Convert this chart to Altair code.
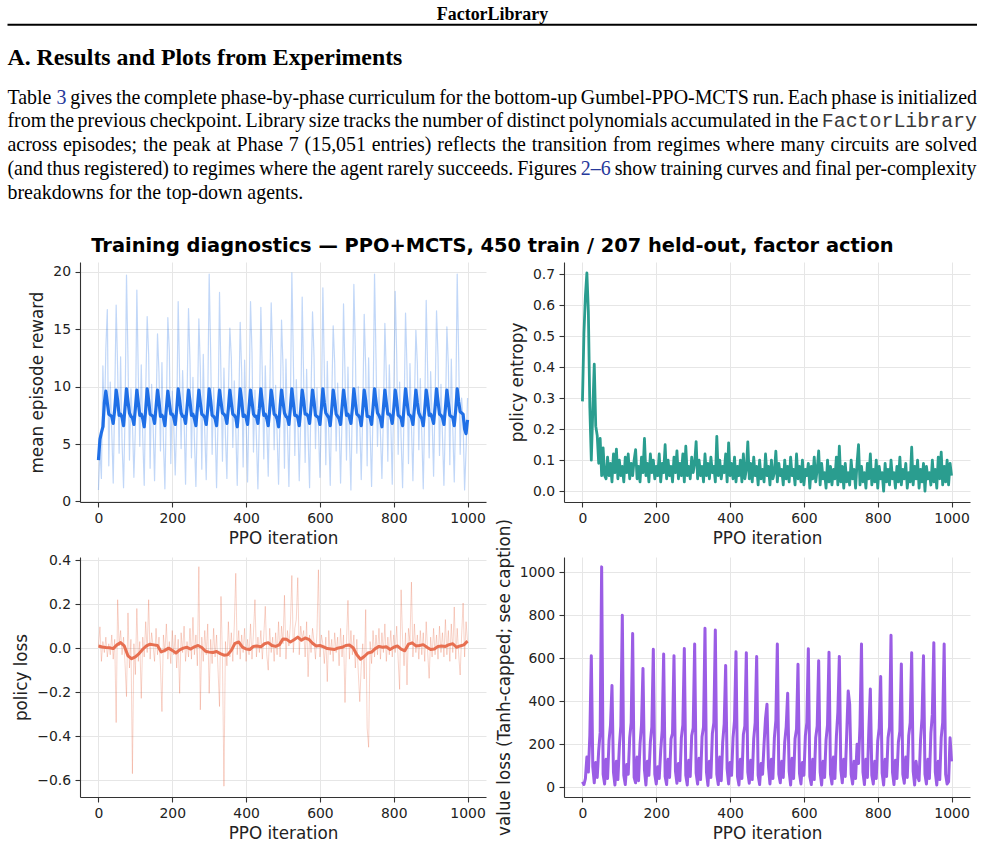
import altair as alt
import pandas as pd

# ---------------------------------------------------------------------------
# Training curves (one logged value every 4 PPO iterations)
# ---------------------------------------------------------------------------
LOG_EVERY = 4

reward_raw = [
    1.0, 4.5, 2.0, 11.8, 6.5, 13.3,
    16.7, 3.1, 10.4, 6.2, 1.6, 8.8, 17.1,
    11.5, 4.2, 12.6, 5.1, 1.2, 7.4, 19.7,
    12.4, 3.6, 9.8, 7.0, 2.1, 6.3, 18.4,
    10.9, 4.8, 11.9, 5.6, 1.4, 9.5, 16.1,
    12.8, 2.9, 10.2, 6.8, 1.8, 7.7, 14.6,
    11.2, 4.4, 12.1, 5.3, 1.1, 8.2, 16.0,
    13.1, 3.3, 9.6, 6.6, 2.3, 6.9, 17.4,
    10.7, 4.6, 11.4, 7.2, 1.5, 9.1, 16.8,
    12.2, 3.8, 10.8, 5.4, 1.3, 7.6, 15.9,
    11.6, 2.8, 12.8, 6.1, 1.9, 8.4, 19.8,
    12.9, 4.1, 9.9, 6.9, 1.2, 7.1, 18.2,
    10.8, 3.5, 11.6, 5.8, 2.0, 9.3, 15.1,
    12.5, 4.7, 10.5, 6.4, 1.4, 7.8, 15.6,
    11.3, 3.0, 12.3, 7.1, 1.7, 8.6, 17.4,
    13.0, 4.3, 9.7, 5.5, 1.1, 7.2, 16.9,
    11.0, 3.7, 11.8, 6.7, 2.2, 9.0, 17.3,
    12.6, 4.5, 10.1, 5.9, 1.5, 7.5, 15.8,
    11.8, 2.9, 12.4, 6.3, 1.3, 8.3, 19.9,
    12.3, 4.0, 10.6, 7.3, 1.8, 7.0, 17.8,
    10.6, 3.4, 11.5, 5.7, 1.2, 9.4, 16.5,
    12.7, 4.6, 9.9, 6.5, 2.1, 7.9, 18.6,
    11.4, 3.2, 12.2, 6.0, 1.4, 8.7, 15.3,
    12.1, 4.4, 10.3, 7.0, 1.6, 7.3, 17.2,
    11.1, 3.6, 11.7, 5.6, 1.0, 8.9, 18.9,
    13.2, 4.2, 10.0, 6.8, 1.9, 7.6, 16.3,
    11.7, 3.1, 12.5, 6.2, 1.3, 8.1, 19.8,
    12.4, 4.8, 9.8, 5.9, 2.0, 7.4, 15.5,
    10.9, 3.5, 11.9, 7.1, 1.5, 9.2, 18.3,
    12.8, 4.1, 10.4, 5.5, 1.2, 7.7, 16.4,
    11.5, 3.3, 12.0, 6.6, 1.8, 8.5, 14.9,
    12.0, 4.5, 10.7, 6.0, 1.1, 7.9, 17.5,
    11.2, 3.8, 11.3, 7.2, 2.2, 8.8, 16.6,
    12.6, 4.0, 10.2, 5.8, 1.4, 7.2, 15.2,
    11.9, 3.2, 12.4, 6.4, 1.7, 8.0, 19.8,
    12.5, 4.1, 9.0, 6.8, 1.0, 4.5, 9.0,
]

reward_smooth = [
    3.6, 5.4, 6.0, 6.5, 8.6, 9.6,
    8.6, 7.6, 7.5, 7.4, 6.8, 8.0, 9.7,
    8.8, 7.5, 7.6, 7.3, 6.6, 8.2, 9.8,
    8.7, 7.7, 7.4, 7.3, 6.7, 8.1, 9.7,
    8.6, 7.5, 7.6, 7.2, 6.5, 8.0, 9.8,
    8.8, 7.6, 7.5, 7.4, 6.8, 8.2, 9.7,
    8.7, 7.4, 7.5, 7.3, 6.6, 8.1, 9.6,
    8.6, 7.6, 7.6, 7.3, 6.7, 8.0, 9.8,
    8.8, 7.7, 7.4, 7.4, 6.8, 8.2, 9.7,
    8.7, 7.5, 7.6, 7.2, 6.6, 8.1, 9.7,
    8.6, 7.6, 7.5, 7.3, 6.7, 8.0, 9.8,
    8.8, 7.5, 7.4, 7.2, 6.6, 8.2, 9.7,
    8.7, 7.7, 7.6, 7.4, 6.8, 8.1, 9.7,
    8.6, 7.6, 7.5, 7.3, 6.5, 8.0, 9.8,
    8.8, 7.4, 7.5, 7.3, 6.7, 8.2, 9.7,
    8.7, 7.6, 7.4, 7.4, 6.8, 8.1, 9.8,
    8.6, 7.5, 7.6, 7.2, 6.6, 8.0, 9.7,
    8.8, 7.6, 7.5, 7.2, 6.5, 8.2, 9.7,
    8.7, 7.7, 7.4, 7.3, 6.7, 8.1, 9.8,
    8.6, 7.5, 7.5, 7.3, 6.6, 8.0, 9.7,
    8.8, 7.6, 7.6, 7.4, 6.8, 8.2, 9.7,
    8.7, 7.5, 7.4, 7.3, 6.7, 8.1, 9.8,
    8.6, 7.7, 7.5, 7.3, 6.6, 8.0, 9.7,
    8.8, 7.6, 7.4, 7.2, 6.7, 8.2, 9.7,
    8.7, 7.5, 7.6, 7.3, 6.8, 8.1, 9.8,
    8.6, 7.6, 7.5, 7.3, 6.6, 8.0, 9.7,
    8.8, 7.4, 7.4, 7.3, 6.7, 8.2, 9.8,
    8.7, 7.7, 7.5, 7.2, 6.5, 8.1, 9.7,
    8.6, 7.6, 7.6, 7.4, 6.8, 8.0, 9.7,
    8.8, 7.5, 7.4, 7.2, 6.6, 8.2, 9.8,
    8.7, 7.6, 7.5, 7.3, 6.7, 8.1, 9.7,
    8.6, 7.7, 7.4, 7.2, 6.6, 8.0, 9.7,
    8.8, 7.5, 7.6, 7.3, 6.8, 8.2, 9.8,
    8.7, 7.6, 7.5, 7.3, 6.7, 8.1, 9.7,
    8.6, 7.5, 7.4, 7.3, 6.6, 8.0, 9.8,
    8.7, 7.8, 7.7, 7.6, 6.3, 5.9, 7.1,
]

policy_entropy = [
    0.29, 0.51, 0.63, 0.705, 0.58, 0.27, 0.10, 0.26, 0.41, 0.21, 0.18, 0.09, 0.17, 0.05, 0.14, 0.05,
    0.04, 0.11, 0.05, 0.09, 0.03, 0.12, 0.06, 0.136, 0.04, 0.10,
    0.05, 0.08, 0.03, 0.11, 0.06, 0.12, 0.04, 0.09, 0.05, 0.10,
    0.134, 0.04, 0.08, 0.03, 0.11, 0.06, 0.17, 0.05, 0.09, 0.03,
    0.12, 0.06, 0.10, 0.04, 0.08, 0.05, 0.12, 0.03, 0.09, 0.06,
    0.15, 0.04, 0.10, 0.05, 0.08, 0.03, 0.11, 0.06, 0.13, 0.04,
    0.09, 0.05, 0.12, 0.03, 0.145, 0.05, 0.08, 0.04, 0.11, 0.06,
    0.09, 0.16, 0.04, 0.10, 0.05, 0.08, 0.03, 0.12, 0.05, 0.09,
    0.04, 0.11, 0.06, 0.08, 0.03, 0.177, 0.05, 0.10, 0.04, 0.08,
    0.06, 0.12, 0.03, 0.156, 0.05, 0.09, 0.04, 0.11, 0.03, 0.08,
    0.05, 0.10, 0.03, 0.12, 0.04, 0.07, 0.159, 0.04, 0.09, 0.03,
    0.11, 0.05, 0.08, 0.02, 0.10, 0.04, 0.07, 0.03, 0.12, 0.05,
    0.08, 0.02, 0.10, 0.04, 0.06, 0.129, 0.03, 0.09, 0.05, 0.07,
    0.02, 0.10, 0.04, 0.08, 0.03, 0.11, 0.05, 0.07, 0.02, 0.12,
    0.04, 0.08, 0.03, 0.10, 0.02, 0.07, 0.05, 0.09, 0.01, 0.08,
    0.04, 0.11, 0.03, 0.07, 0.13, 0.02, 0.09, 0.04, 0.06, 0.01,
    0.10, 0.03, 0.08, 0.02, 0.07, 0.04, 0.11, 0.02, 0.145, 0.03,
    0.08, 0.01, 0.09, 0.03, 0.06, 0.02, 0.10, 0.04, 0.07, 0.01,
    0.09, 0.15, 0.02, 0.08, 0.03, 0.06, 0.01, 0.09, 0.04, 0.12,
    0.02, 0.07, 0.03, 0.10, 0.01, 0.08, 0.04, 0.06, 0.00, 0.09,
    0.03, 0.07, 0.02, 0.10, 0.04, 0.06, 0.01, 0.08, 0.03, 0.11,
    0.02, 0.07, 0.04, 0.09, 0.01, 0.06, 0.03, 0.142, 0.02, 0.08,
    0.04, 0.10, 0.01, 0.07, 0.03, 0.09, 0.00, 0.08, 0.04, 0.06,
    0.02, 0.10, 0.03, 0.07, 0.01, 0.11, 0.04, 0.126, 0.02, 0.08,
    0.03, 0.10, 0.02, 0.09, 0.05,
]

policy_loss_raw = [
    0.01, 0.097, -0.06, 0.03, -0.02, 0.05, -0.04, 0.02, -0.03, 0.06,
    -0.05, 0.04, -0.338, 0.22, 0.01, 0.08, -0.03, 0.05, -0.07, -0.22,
    0.16, -0.09, 0.04, -0.57, 0.02, -0.12, 0.18, -0.06, 0.03, -0.228,
    0.05, -0.04, 0.12, -0.02, 0.22, -0.05, 0.07, 0.01, -0.06, 0.09,
    -0.03, 0.05, -0.08, -0.288, 0.06, -0.02, 0.11, -0.05, 0.03, -0.07,
    0.08, -0.03, 0.06, -0.09, 0.04, -0.205, 0.07, -0.02, 0.10, -0.06,
    0.03, -0.04, 0.09, -0.05, 0.14, -0.03, 0.06, -0.08, 0.37, -0.28,
    0.05, -0.06, 0.08, -0.03, 0.11, -0.205, 0.04, -0.07, 0.09, -0.04,
    0.06, -0.10, -0.265, 0.235, -0.05, -0.627, 0.03, -0.08, 0.12, -0.04,
    0.07, -0.06, 0.10, 0.34, -0.03, 0.08, -0.05, 0.06, -0.02, 0.09,
    -0.06, 0.04, -0.03, 0.11, -0.05, 0.07, 0.22, -0.04, 0.05, -0.02,
    0.08, -0.05, 0.06, 0.19, -0.03, -0.10, 0.09, -0.02, 0.05, -0.06,
    0.07, -0.03, 0.12, -0.04, 0.10, 0.02, 0.24, -0.05, 0.08, 0.01,
    0.11, 0.33, -0.02, 0.09, 0.13, 0.32, -0.03, 0.10, 0.04, 0.08,
    -0.04, 0.12, -0.13, 0.06, -0.02, 0.09, 0.03, -0.05, 0.07, 0.356,
    -0.04, 0.06, 0.02, -0.07, 0.05, -0.152, 0.08, -0.03, 0.04, -0.06,
    0.07, -0.02, 0.05, -0.08, 0.09, -0.04, 0.06, -0.247, 0.03, 0.217,
    -0.05, 0.08, -0.03, 0.06, -0.09, 0.04, -0.11, -0.243, -0.08, 0.02,
    -0.14, 0.175, -0.363, -0.45, 0.03, -0.07, 0.08, -0.04, 0.06, -0.03,
    0.09, -0.05, 0.07, -0.02, 0.11, -0.06, 0.05, -0.03, 0.08, -0.04,
    0.06, -0.02, 0.10, -0.05, -0.187, 0.265, 0.04, -0.08, 0.07, -0.167,
    0.09, 0.03, 0.30, -0.04, 0.11, -0.02, 0.06, -0.05, 0.08, -0.03,
    0.07, -0.06, 0.12, -0.02, -0.137, 0.05, -0.04, 0.09, -0.03, 0.06,
    -0.05, 0.10, -0.02, 0.07, -0.04, 0.13, -0.03, 0.08, -0.06, 0.11,
    -0.02, 0.187, -0.05, 0.09, -0.03, -0.122, 0.06, 0.205, -0.04, 0.12,
    0.03,
]

# running mean of the policy loss, one value every 10 iterations
POLICY_SMOOTH_EVERY = 10
policy_loss_smooth = [
    0.010, 0.005, 0.003, 0.002, -0.002, 0.015, 0.025, 0.010, -0.035, -0.048,
    -0.040, -0.025, -0.005, 0.010, 0.018, 0.015, 0.012, -0.017, -0.010, 0.000,
    -0.010, -0.022, -0.008, 0.000, 0.004, -0.004, 0.006, 0.012, 0.003, -0.014,
    -0.018, -0.020, -0.015, -0.025, -0.032, -0.030, -0.010, 0.022, 0.028, 0.005,
    -0.004, -0.006, 0.008, 0.010, 0.006, 0.020, 0.025, 0.012, 0.008, 0.015,
    0.042, 0.040, 0.028, 0.038, 0.050, 0.036, 0.046, 0.040, 0.022, 0.010,
    0.012, 0.006, -0.002, -0.004, -0.006, 0.001, 0.004, 0.012, 0.014, 0.002,
    -0.030, -0.050, -0.038, -0.022, -0.018, -0.002, 0.008, 0.004, 0.006, -0.006,
    0.004, 0.010, -0.004, -0.012, 0.018, 0.024, 0.010, 0.012, 0.016, 0.004,
    -0.006, -0.004, 0.008, 0.010, 0.008, 0.016, 0.020, 0.004, 0.010, 0.015,
    0.032,
]

value_loss = [
    25, 12, 40, 140, 70, 240, 612,
    95, 20, 115, 45, 170, 255, 1026,
    60, 15, 130, 40, 215, 290, 473,
    70, 10, 120, 35, 190, 285, 801,
    55, 12, 105, 60, 230, 300, 716,
    45, 20, 140, 30, 200, 290, 553,
    80, 10, 120, 55, 210, 280, 642,
    60, 15, 95, 40, 170, 265, 620,
    50, 12, 130, 45, 225, 250, 612,
    75, 18, 110, 30, 230, 290, 646,
    55, 10, 125, 50, 240, 275, 667,
    65, 14, 135, 35, 235, 280, 740,
    70, 8, 120, 45, 250, 300, 732,
    60, 12, 140, 30, 210, 295, 567,
    85, 15, 115, 55, 230, 310, 631,
    50, 10, 130, 40, 245, 285, 626,
    70, 18, 125, 35, 225, 300, 608,
    55, 12, 110, 60, 200, 320, 386,
    95, 15, 130, 40, 230, 310, 667,
    60, 20, 120, 45, 210, 280, 437,
    75, 10, 135, 40, 225, 270, 572,
    65, 15, 115, 55, 240, 300, 645,
    50, 12, 130, 35, 230, 285, 589,
    70, 10, 120, 45, 220, 290, 628,
    60, 15, 140, 40, 235, 350, 609,
    80, 20, 130, 50, 250, 448,
    387, 60, 15, 120, 40, 200, 110, 290, 667,
    70, 12, 130, 45, 270, 457,
    55, 15, 120, 40, 215, 275, 515,
    65, 10, 130, 50, 230, 280, 707,
    70, 12, 125, 40, 210, 260, 574,
    60, 18, 140, 45, 240, 300, 626,
    75, 10, 120, 50, 30, 220, 320, 612,
    60, 15, 130, 40, 250, 340, 673,
    70, 10, 120, 35, 230, 300, 667,
    60, 15, 25, 230, 120,
]

# ---------------------------------------------------------------------------
# Page text above the figure
# ---------------------------------------------------------------------------
RUNNING_HEAD = "FactorLibrary"
SECTION_HEADING = "A. Results and Plots from Experiments"
PARAGRAPH_LINES = [
    "Table 3 gives the complete phase-by-phase curriculum for the bottom-up Gumbel-PPO-MCTS run. Each phase is initialized",
    "from the previous checkpoint. Library size tracks the number of distinct polynomials accumulated in the FactorLibrary",
    "across episodes; the peak at Phase 7 (15,051 entries) reflects the transition from regimes where many circuits are solved",
    "(and thus registered) to regimes where the agent rarely succeeds. Figures 2–6 show training curves and final per-complexity",
    "breakdowns for the top-down agents.",
]
LINK_WORDS = {"3", "2–6"}
CODE_WORDS = {"FactorLibrary"}
FIGURE_TITLE = "Training diagnostics — PPO+MCTS, 450 train / 207 held-out, factor action"

# ---------------------------------------------------------------------------
# Styling / geometry
# ---------------------------------------------------------------------------
BLUE = "#1f6fe6"
TEAL = "#2a9d8f"
CORAL = "#e76f51"
PURPLE = "#9b5de5"
LINK_BLUE = "#27399b"

PANEL_W, PANEL_H = 406, 240
COL_GAP, ROW_GAP = 78, 55
PLOT_LEFT = 80          # page x of the left panels' plot area
HEADER_H = 262          # page y where the top panels start

TEXT_LEFT, TEXT_RIGHT = 7.5, 977.0
BODY_SIZE = 19.9
FIRST_BASELINE = 103.5
LINE_PITCH = 23.75

# Times advance widths (1/1000 em) for justifying the paragraph
TIMES_WIDTHS = {
    " ": 250, "(": 333, ")": 333, ",": 250, "-": 333, ".": 250, ";": 278, ":": 278, "–": 500,
    "A": 722, "B": 667, "C": 667, "D": 722, "E": 611, "F": 556, "G": 722, "H": 722,
    "I": 333, "J": 389, "K": 722, "L": 611, "M": 889, "N": 722, "O": 722, "P": 556,
    "Q": 722, "R": 667, "S": 556, "T": 611, "U": 722, "V": 722, "W": 944, "X": 722,
    "Y": 722, "Z": 611,
    "a": 444, "b": 500, "c": 444, "d": 500, "e": 444, "f": 333, "g": 500, "h": 500,
    "i": 278, "j": 278, "k": 500, "l": 278, "m": 778, "n": 500, "o": 500, "p": 500,
    "q": 500, "r": 333, "s": 389, "t": 278, "u": 500, "v": 500, "w": 722, "x": 500,
    "y": 500, "z": 444,
}


def word_width(word, kind):
    if kind == "code":
        return 0.6 * BODY_SIZE * len(word)
    return BODY_SIZE * sum(TIMES_WIDTHS.get(ch, 500) for ch in word) / 1000.0


words_rows = []
for n, line in enumerate(PARAGRAPH_LINES):
    words = line.split(" ")
    kinds = ["link" if w in LINK_WORDS else "code" if w in CODE_WORDS else "text" for w in words]
    widths = [word_width(w, k) for w, k in zip(words, kinds)]
    if n == len(PARAGRAPH_LINES) - 1:
        gap = 0.25 * BODY_SIZE
    else:
        gap = (TEXT_RIGHT - TEXT_LEFT - sum(widths)) / (len(words) - 1)
    x = TEXT_LEFT
    for w, k, wd in zip(words, kinds, widths):
        words_rows.append({"text": w, "kind": k, "px": x - PLOT_LEFT,
                           "py": FIRST_BASELINE + n * LINE_PITCH})
        x += wd + gap
words_df = pd.DataFrame(words_rows)


def px(field):
    return alt.X(f"{field}:Q", scale=None, axis=None)


def py(field):
    return alt.Y(f"{field}:Q", scale=None, axis=None)


def text_layer(df, **mark):
    return alt.Chart(df).mark_text(align=mark.pop("align", "left"), baseline="alphabetic", **mark).encode(
        x=px("px"), y=py("py"), text="text:N")


def one_text(text, x, y, **mark):
    return text_layer(pd.DataFrame({"text": [text], "px": [x], "py": [y]}), **mark)


corner = alt.Chart(pd.DataFrame({"x": [-PLOT_LEFT], "x2": [-PLOT_LEFT + 1], "y": [0], "y2": [1]})).mark_rect(
    color="white").encode(x=px("x"), x2="x2:Q", y=py("y"), y2="y2:Q")

head_rule = alt.Chart(pd.DataFrame({"x": [TEXT_LEFT - PLOT_LEFT], "x2": [TEXT_RIGHT - PLOT_LEFT], "y": [24.8]})).mark_rule(
    color="black", strokeWidth=2).encode(x=px("x"), x2="x2:Q", y=py("y"))

header = alt.layer(
    corner,
    head_rule,
    one_text(RUNNING_HEAD, 492.5 - PLOT_LEFT, 20.0, align="center", font="Liberation Serif",
             fontWeight="bold", fontSize=17.9, color="black"),
    one_text(SECTION_HEADING, TEXT_LEFT - PLOT_LEFT, 65.0, font="Liberation Serif",
             fontWeight="bold", fontSize=23.8, color="black"),
    text_layer(words_df[words_df.kind == "text"], font="Liberation Serif", fontSize=BODY_SIZE, color="black"),
    text_layer(words_df[words_df.kind == "link"], font="Liberation Serif", fontSize=BODY_SIZE, color=LINK_BLUE),
    text_layer(words_df[words_df.kind == "code"], font="Liberation Mono", fontSize=BODY_SIZE, color="#3a3a3a"),
    one_text(FIGURE_TITLE, 492.4 - PLOT_LEFT, 251.7, align="center", font="DejaVu Sans",
             fontWeight="bold", fontSize=19.4, color="black"),
).properties(width=2 * PANEL_W + COL_GAP, height=HEADER_H)

# ---------------------------------------------------------------------------
# Panels
# ---------------------------------------------------------------------------
X_SCALE = alt.Scale(domain=[-50, 1050], nice=False, zero=False)
X_AXIS = alt.Axis(values=[0, 200, 400, 600, 800, 1000], format="d", title="PPO iteration", labelFlush=False)


def series_df(values, every):
    return pd.DataFrame({"iteration": [every * i for i in range(len(values))], "value": values})


def curve(values, every, color, width, domain, ticks, fmt, title, opacity=1.0):
    return alt.Chart(series_df(values, every)).mark_line(
        color=color, strokeWidth=width, opacity=opacity, strokeJoin="round"
    ).encode(
        x=alt.X("iteration:Q", scale=X_SCALE, axis=X_AXIS),
        y=alt.Y("value:Q", scale=alt.Scale(domain=domain, nice=False, zero=False),
                axis=alt.Axis(values=ticks, format=fmt, title=title, labelFlush=False)),
    )


R_DOM, R_TICKS = [-0.05, 20.85], [0, 5, 10, 15, 20]
reward_panel = alt.layer(
    curve(reward_raw, LOG_EVERY, BLUE, 1.2, R_DOM, R_TICKS, "d", "mean episode reward", opacity=0.28),
    curve(reward_smooth, LOG_EVERY, BLUE, 3.2, R_DOM, R_TICKS, "d", "mean episode reward"),
).properties(width=PANEL_W, height=PANEL_H)

entropy_panel = curve(
    policy_entropy, LOG_EVERY, TEAL, 2.8, [-0.035, 0.74], [0, 0.1, 0.2, 0.3, 0.4, 0.5, 0.6, 0.7],
    ".1f", "policy entropy",
).properties(width=PANEL_W, height=PANEL_H)

P_DOM, P_TICKS = [-0.676, 0.414], [-0.6, -0.4, -0.2, 0.0, 0.2, 0.4]
policy_panel = alt.layer(
    curve(policy_loss_raw, LOG_EVERY, CORAL, 1.0, P_DOM, P_TICKS, ".1f", "policy loss", opacity=0.3),
    curve(policy_loss_smooth, POLICY_SMOOTH_EVERY, CORAL, 3.0, P_DOM, P_TICKS, ".1f", "policy loss"),
).properties(width=PANEL_W, height=PANEL_H)

value_panel = curve(
    value_loss, LOG_EVERY, PURPLE, 3.0, [-46, 1072], [0, 200, 400, 600, 800, 1000],
    "d", "value loss (Tanh-capped; see caption)",
).properties(width=PANEL_W, height=PANEL_H)

grid = alt.concat(
    reward_panel, entropy_panel, policy_panel, value_panel,
    columns=2, spacing={"row": ROW_GAP, "column": COL_GAP}, bounds="flush",
)

chart = alt.vconcat(header, grid, spacing=0, bounds="flush").properties(
    padding={"left": 0, "top": 0, "right": 0, "bottom": 0}
).configure_view(
    stroke=None
).configure_axis(
    domainColor="#333333", domainWidth=1.1,
    tickColor="#333333", tickWidth=1.1, tickSize=5,
    labelFont="DejaVu Sans", labelFontSize=13.9, labelColor="#222222", labelPadding=4.5,
    titleFont="DejaVu Sans", titleFontSize=16.8, titleFontWeight="normal", titleColor="#222222",
    gridColor="#e6e6e6", gridWidth=1,
).configure_axisX(titlePadding=5).configure_axisY(titlePadding=6)

chart.save("out.html", embed_options={"renderer": "svg", "actions": False})
